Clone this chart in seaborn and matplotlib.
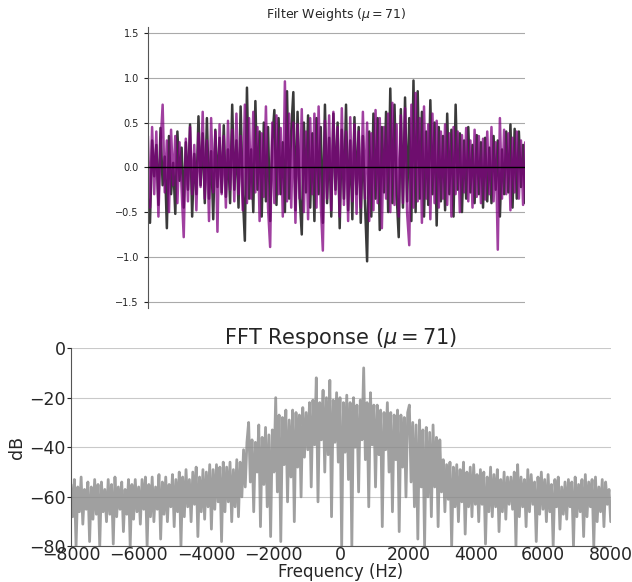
import numpy as np
import matplotlib
matplotlib.use("Agg")
import matplotlib.pyplot as plt
import seaborn as sns

# filter weights (two adaptive filters)
W_GRAY = [
    -0.35, -0.62, 0.30, -0.10, 0.25, -0.42, 0.44, -0.20, 0.12, -0.68, 0.35, -0.30, 0.05, -0.52, 0.40, -0.15, 0.22, -0.45, 0.28, -0.25,
    0.48, -0.55, 0.15, -0.30, 0.57, -0.20, 0.38, -0.40, 0.55, -0.35, 0.18, -0.58, 0.42, -0.22, 0.33, -0.28, 0.47, -0.33, 0.20, -0.40,
    0.70, -0.25, 0.30, -0.45, 0.68, -0.30, -0.82, 0.89, -0.35, 0.20, -0.50, 0.74, -0.25, 0.40, -0.55, 0.50, -0.38, 0.45, -0.60, 0.30,
    0.64, -0.42, 0.55, -0.30, 0.28, -0.50, 0.85, -0.35, 0.40, 0.84, -0.48, 0.62, -0.33, -0.75, 0.50, -0.28, 0.58, -0.45, 0.38, -0.60,
    0.55, -0.30, 0.45, -0.62, 0.70, -0.40, 0.33, -0.55, 0.60, -0.25, 0.50, -0.68, 0.42, -0.35, 0.70, -0.48, 0.30, -0.58, 0.56, -0.30,
    0.45, -0.62, 0.35, -0.40, -1.05, 0.40, -0.55, 0.60, -0.35, 0.55, -0.70, 0.45, -0.28, 0.62, -0.50, 0.88, -0.40, 0.70, -0.30, -0.78,
    0.65, -0.45, 0.78, -0.38, 0.55, -0.60, 0.97, -0.50, 0.85, -0.35, 0.62, -0.55, 0.40, -0.42, 0.75, -0.30, 0.50, -0.65, 0.45, -0.38,
    0.35, -0.48, 0.60, -0.30, 0.42, -0.55, 0.70, -0.25, 0.38, -0.50, 0.30, -0.35, 0.45, -0.28, 0.25, -0.40, 0.36, -0.30, 0.28, -0.45,
    0.33, -0.38, 0.22, -0.40, 0.35, -0.25, 0.30, -0.55, 0.20, -0.30, 0.40, -0.28, 0.48, -0.45, 0.43, -0.35, 0.40, -0.22, 0.25, -0.40,
]
W_PURPLE = [
    0.35, -0.45, 0.45, -0.30, 0.40, -0.55, 0.25, 0.70, -0.28, 0.30, -0.50, 0.42, -0.20, 0.35, -0.40, 0.28, -0.25, -0.78, 0.32, -0.38,
    0.45, -0.30, 0.25, -0.48, 0.38, -0.22, 0.62, -0.35, 0.30, -0.60, 0.55, -0.28, 0.40, -0.72, 0.48, -0.30, 0.35, -0.45, 0.52, -0.25,
    0.42, -0.38, 0.60, -0.30, 0.35, -0.48, 0.70, -0.40, 0.55, -0.35, 0.62, -0.28, 0.45, -0.60, 0.38, -0.33, 0.68, -0.45, -0.89, 0.50,
    -0.40, 0.58, -0.30, 0.44, -0.55, 0.96, -0.38, 0.60, -0.45, 0.50, -0.62, 0.48, -0.35, 0.65, -0.50, 0.40, -0.58, 0.55, -0.30, 0.60,
    -0.45, 0.68, -0.40, -0.93, 0.52, -0.35, 0.58, -0.48, 0.62, -0.30, 0.45, -0.55, 0.66, -0.42, 0.40, -0.60, 0.56, -0.38, 0.48, -0.52,
    0.40, -0.45, 0.62, -0.35, 0.50, -0.60, 0.38, -0.48, 0.64, -0.40, 0.55, -0.68, 0.45, -0.35, 0.60, -0.50, 0.72, -0.42, 0.48, -0.55,
    0.58, -0.40, 0.66, -0.52, -0.87, 0.70, -0.45, 0.83, -0.38, 0.55, -0.62, 0.68, -0.35, 0.48, -0.58, 0.60, -0.40, 0.52, -0.45, 0.40,
    -0.35, 0.48, -0.42, 0.38, -0.55, 0.45, -0.30, 0.40, -0.50, 0.36, -0.28, 0.44, -0.38, 0.30, -0.45, 0.42, -0.33, 0.35, -0.40, 0.32,
    -0.36, 0.40, -0.30, 0.45, -0.38, 0.28, -0.92, 0.55, -0.35, 0.42, -0.30, 0.38, -0.48, 0.33, -0.28, 0.40, -0.35, 0.30, -0.42, 0.28,
]

# FFT magnitude (dB), 320 bins from -8000 to 8000 Hz
FFT_DB = [
    -55, -68, -53, -80, -56, -66, -52, -71, -57, -65, -54, -78, -56, -69, -53, -67, -55, -80, -54, -66,
    -57, -70, -53, -67, -55, -79, -52, -68, -56, -65, -54, -74, -57, -67, -53, -80, -55, -69, -53, -66,
    -56, -71, -53, -65, -52, -80, -55, -68, -52, -70, -56, -65, -51, -77, -54, -67, -52, -70, -55, -64,
    -51, -72, -53, -66, -50, -80, -52, -68, -49, -64, -53, -70, -50, -63, -48, -76, -52, -66, -49, -69,
    -50, -64, -47, -73, -49, -65, -47, -62, -48, -78, -46, -66, -48, -62, -46, -70, -49, -64, -45, -68,
    -46, -60, -41, -56, -38, -30, -54, -37, -66, -38, -50, -31, -72, -36, -55, -32, -64, -35, -76, -33,
    -50, -20, -58, -27, -78, -28, -47, -25, -62, -29, -52, -25, -70, -26, -48, -27, -60, -24, -44, -26,
    -41, -22, -56, -21, -39, -12, -62, -22, -37, -17, -50, -20, -43, -13, -68, -21, -38, -18, -46, -20,
    -80, -22, -42, -19, -53, -22, -80, -20, -40, -23, -58, -21, -37, -8, -45, -22, -64, -18, -39, -23,
    -56, -23, -43, -25, -72, -26, -41, -22, -50, -26, -66, -27, -45, -25, -74, -27, -48, -28, -60, -26,
    -23, -54, -30, -64, -31, -77, -29, -56, -33, -80, -32, -60, -34, -68, -31, -56, -36, -72, -37, -58,
    -45, -66, -47, -61, -46, -80, -48, -64, -47, -70, -49, -62, -46, -75, -50, -64, -48, -68, -47, -63,
    -51, -70, -49, -63, -50, -79, -52, -66, -48, -68, -51, -64, -49, -74, -53, -66, -50, -69, -52, -63,
    -52, -65, -50, -80, -47, -68, -52, -64, -53, -72, -49, -66, -51, -63, -54, -78, -52, -67, -50, -65,
    -53, -70, -51, -66, -55, -80, -53, -64, -52, -73, -56, -67, -54, -69, -53, -64, -54, -80, -52, -68,
    -55, -66, -53, -76, -51, -68, -54, -64, -53, -80, -52, -70, -56, -66, -53, -72, -54, -63, -57, -70,
]
MU = 71

taps = np.arange(len(W_GRAY))
freq = np.linspace(-8000, 8000, len(FFT_DB))

sns.set_style("white")
plt.rcParams["font.family"] = ["DejaVu Sans"]

fig = plt.figure(figsize=(6.32, 5.82), dpi=100)

# --- top: filter weights
ax1 = fig.add_axes([0.234, 0.471, 0.597, 0.483])
sns.lineplot(x=taps, y=W_GRAY, ax=ax1, color="#3a3a3a", lw=1.8, estimator=None)
sns.lineplot(x=taps, y=W_PURPLE, ax=ax1, color="#800080", alpha=0.75, lw=1.8, estimator=None)
ax1.axhline(0, color="black", lw=1.0, zorder=5)
ax1.set_xlim(0, len(W_GRAY) - 1)
ax1.set_ylim(-1.57, 1.57)
ax1.set_yticks([-1.5, -1.0, -0.5, 0.0, 0.5, 1.0, 1.5])
ax1.yaxis.grid(True, color="#aaaaaa", lw=0.8)
ax1.set_axisbelow(True)
ax1.set_xticks([])
for s in ["top", "right", "bottom"]:
    ax1.spines[s].set_visible(False)
ax1.spines["left"].set_color("#555555")
ax1.tick_params(axis="y", labelsize=7, length=3, width=0.8, direction="out", left=True, colors="#222222")
ax1.set_title(rf"Filter Weights ($\mu = {MU}$)", fontsize=9, pad=6)

# --- bottom: FFT response
ax2 = fig.add_axes([0.1123, 0.061, 0.854, 0.341])
sns.lineplot(x=freq, y=FFT_DB, ax=ax2, color="#a0a0a0", lw=2.0, estimator=None)
ax2.set_xlim(-8000, 8000)
ax2.set_ylim(-80, 0)
ax2.set_yticks([-80, -60, -40, -20, 0])
ax2.set_xticks(range(-8000, 8001, 2000))
ax2.yaxis.grid(True, color="#888888", lw=0.8, alpha=0.45)
ax2.set_axisbelow(False)
for s in ["top", "right"]:
    ax2.spines[s].set_visible(False)
ax2.spines["left"].set_color("#555555")
ax2.spines["bottom"].set_color("#555555")
ax2.tick_params(axis="x", labelsize=12.5, length=0, pad=0)
ax2.tick_params(axis="y", labelsize=12.5, length=3, width=0.8, direction="out", left=True, pad=1)
ax2.set_xlabel("Frequency (Hz)", fontsize=12, labelpad=-1)
ax2.set_ylabel("dB", fontsize=12.5, labelpad=2)
ax2.set_title(rf"FFT Response ($\mu = {MU}$)", fontsize=15, pad=3)

fig.savefig("out.png", dpi=100)
